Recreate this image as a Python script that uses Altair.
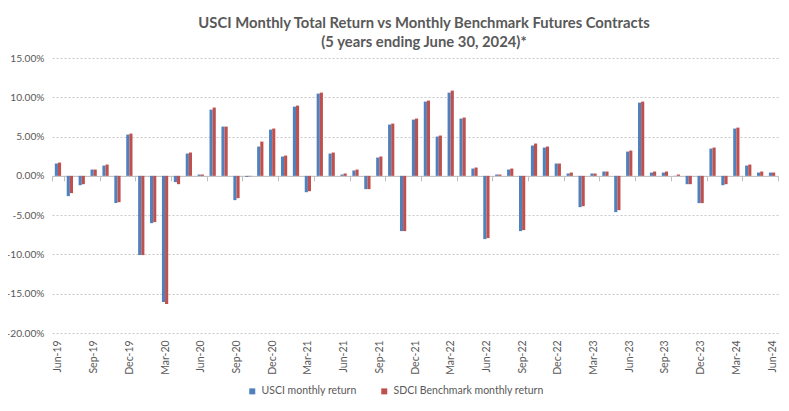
import altair as alt
import pandas as pd

months = [
    "Jun-19", "Jul-19", "Aug-19", "Sep-19", "Oct-19", "Nov-19", "Dec-19",
    "Jan-20", "Feb-20", "Mar-20", "Apr-20", "May-20", "Jun-20", "Jul-20", "Aug-20", "Sep-20", "Oct-20", "Nov-20", "Dec-20",
    "Jan-21", "Feb-21", "Mar-21", "Apr-21", "May-21", "Jun-21", "Jul-21", "Aug-21", "Sep-21", "Oct-21", "Nov-21", "Dec-21",
    "Jan-22", "Feb-22", "Mar-22", "Apr-22", "May-22", "Jun-22", "Jul-22", "Aug-22", "Sep-22", "Oct-22", "Nov-22", "Dec-22",
    "Jan-23", "Feb-23", "Mar-23", "Apr-23", "May-23", "Jun-23", "Jul-23", "Aug-23", "Sep-23", "Oct-23", "Nov-23", "Dec-23",
    "Jan-24", "Feb-24", "Mar-24", "Apr-24", "May-24", "Jun-24",
]

# monthly returns in percent
usci = [
    1.57, -2.58, -1.19, 0.80, 1.31, -3.47, 5.25,
    -10.08, -6.02, -16.06, -0.80, 2.84, 0.17, 8.43, 6.27, -3.09, -0.13, 3.73, 5.89,
    2.46, 8.81, -2.08, 10.47, 2.84, 0.17, 0.68, -1.69, 2.33, 6.53, -7.03, 7.16,
    9.45, 5.00, 10.59, 7.29, 0.93, -8.05, 0.17, 0.80, -7.03, 3.86, 3.60, 1.57,
    0.30, -3.98, 0.30, 0.55, -4.62, 3.09, 9.32, 0.42, 0.42, 0.02, -1.06, -3.47,
    3.47, -1.19, 6.02, 1.31, 0.42, 0.42,
]
sdci = [
    1.69, -2.20, -1.06, 0.80, 1.44, -3.35, 5.38,
    -10.08, -5.89, -16.31, -1.06, 2.97, 0.17, 8.69, 6.27, -2.84, -0.05, 4.36, 6.02,
    2.58, 8.94, -1.95, 10.59, 2.97, 0.30, 0.80, -1.69, 2.46, 6.65, -7.03, 7.29,
    9.58, 5.13, 10.85, 7.42, 1.06, -7.92, 0.17, 0.93, -6.90, 4.11, 3.73, 1.57,
    0.42, -3.86, 0.30, 0.55, -4.36, 3.22, 9.45, 0.55, 0.55, 0.17, -1.06, -3.47,
    3.60, -1.06, 6.14, 1.44, 0.55, 0.42,
]

series_names = ["USCI monthly return", "SDCI Benchmark monthly return"]
series_colors = ["#4F81BD", "#C0504D"]
y_ticks = [0.15, 0.10, 0.05, 0.0, -0.05, -0.10, -0.15, -0.20]
x_label_months = months[::3]
title_lines = [
    "USCI Monthly Total Return vs Monthly Benchmark Futures Contracts",
    "(5 years ending June 30, 2024)*",
]

rows = []
for m, u, s in zip(months, usci, sdci):
    rows.append({"month": m, "series": series_names[0], "value": u / 100})
    rows.append({"month": m, "series": series_names[1], "value": s / 100})
df = pd.DataFrame(rows)

FONT = "Lato"
GRAY = "#595959"
W, H = 726, 275
zero_from_bottom = H * 20 / 35

chart = alt.Chart(df).mark_bar().encode(
    x=alt.X(
        "month:N",
        sort=months,
        scale=alt.Scale(paddingInner=0, paddingOuter=0),
        axis=alt.Axis(
            title=None,
            values=x_label_months,
            labelAngle=270,
            offset=-zero_from_bottom,
            labelPadding=159,
            domainColor="#BFBFBF",
            tickColor="#BFBFBF",
            tickSize=5,
            tickBand="extent",
            labelFont=FONT,
            labelFontSize=10.5,
            labelColor=GRAY,
            grid=False,
            labelOverlap=False,
            labelFlush=False,
        ),
    ),
    xOffset=alt.XOffset(
        "series:N", sort=series_names,
        scale=alt.Scale(paddingInner=0, paddingOuter=0.9),
    ),
    y=alt.Y(
        "value:Q",
        scale=alt.Scale(domain=[-0.20, 0.15], nice=False, zero=False),
        axis=alt.Axis(
            title=None,
            values=y_ticks,
            format=".2%",
            labelExpr="replace(datum.label, '\u2212', '-')",
            domain=False,
            ticks=False,
            gridColor="#C8C8C8",
            gridDash=[2, 2],
            labelFont=FONT,
            labelFontSize=10.2,
            labelColor=GRAY,
            labelPadding=8,
        ),
    ),
    color=alt.Color(
        "series:N",
        sort=series_names,
        scale=alt.Scale(domain=series_names, range=series_colors),
        legend=alt.Legend(
            title=None,
            orient="none",
            legendX=195,
            legendY=328,
            direction="horizontal",
            symbolType="square",
            symbolSize=36,
            symbolStrokeWidth=0,
            labelFont=FONT,
            labelFontSize=10.5,
            labelColor=GRAY,
            columnPadding=22,
            padding=0,
        ),
    ),
).properties(
    width=W,
    height=H,
    autosize=alt.AutoSizeParams(type="none"),
    padding={"left": 44, "top": 50, "right": 3, "bottom": 70},
    title=alt.TitleParams(
        text=title_lines,
        font=FONT,
        fontSize=14.8,
        fontWeight="bold",
        color=GRAY,
        lineHeight=19,
        anchor="middle",
        dx=9,
        offset=3,
    ),
).configure_view(stroke=None)

chart.save("out.html", embed_options={"renderer": "svg", "actions": False})
